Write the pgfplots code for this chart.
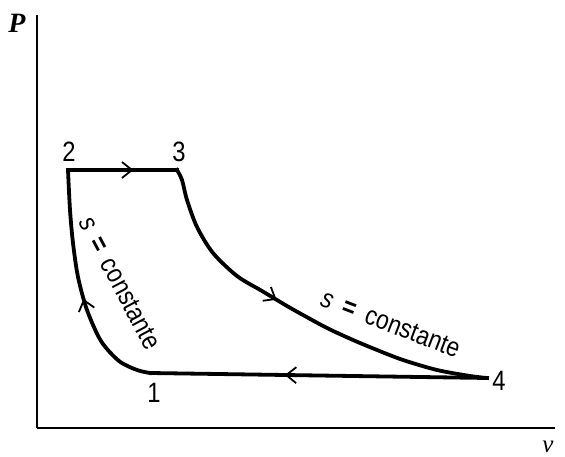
\documentclass[border=0pt]{standalone}
\usepackage{fontspec}
\setmainfont{Liberation Sans}
\newfontfamily\cond[FakeStretch=0.85]{Liberation Sans}
\newfontfamily\serifit{Liberation Serif}
\usepackage{pgfplots}
\pgfplotsset{compat=1.18}
\usetikzlibrary{decorations.markings,arrows.meta}
\tikzset{arr/.style={postaction={decorate}, decoration={markings, mark=at position #1 with {\arrow{Straight Barb[length=10pt,width=16pt,line width=1.8pt]}}}}}
\begin{document}
\begin{tikzpicture}
\begin{axis}[x=1pt,y=1pt,xmin=0,xmax=518,ymin=0,ymax=413,
  axis lines*=left, axis line style={line width=2.2pt,-},
  xtick=\empty, ytick=\empty, clip=false]
% 2 -> 3
\addplot[line width=3.8pt, line cap=rect, arr=0.6]
 coordinates {(31,258) (140,258)};
% 3 -> 4
\addplot[line width=3.8pt, line cap=rect, smooth, arr=0.43]
 coordinates {(140,258) (145,248) (150,228) (160,201) (176,175) (200,152) (225,137) (250,122) (266,113) (290,100) (316,88) (340,78) (366,68) (400,58) (433,52) (450,50)};
% 4 -> 1
\addplot[line width=3.8pt, arr=0.6]
 coordinates {(450,50) (113,55)};
% 1 -> 2
\addplot[line width=3.8pt, line cap=rect, smooth, arr=0.45]
 coordinates {(113,55) (100,58) (82,67) (64,87) (50,118) (41,151) (36,185) (33,218) (31,258)};
\node[font=\cond\fontsize{28}{30}\selectfont] at (axis cs:32,276) {2};
\node[font=\cond\fontsize{28}{30}\selectfont] at (axis cs:142,276) {3};
\node[font=\cond\fontsize{28}{30}\selectfont] at (axis cs:462,47) {4};
\node[font=\cond\fontsize{28}{30}\selectfont] at (axis cs:117,35) {1};
\node[font=\serifit\itshape\bfseries\fontsize{28}{30}\selectfont] at (axis cs:-20,405) {P};
\node[font=\serifit\itshape\fontsize{25}{27}\selectfont] at (axis cs:511,-19) {v};
\node[font=\cond\fontsize{27}{29}\selectfont, rotate=-21] at (axis cs:354,104) {\textit{s}\hspace{0.4em}\textbf{=}\hspace{0.4em}constante};
\node[font=\cond\fontsize{27}{29}\selectfont, rotate=-62] at (axis cs:83,145) {\textit{s}\hspace{0.4em}\textbf{=}\hspace{0.4em}constante};
\path (axis cs:-37,-29) rectangle (axis cs:528,428);
\end{axis}
\end{tikzpicture}
\end{document}
